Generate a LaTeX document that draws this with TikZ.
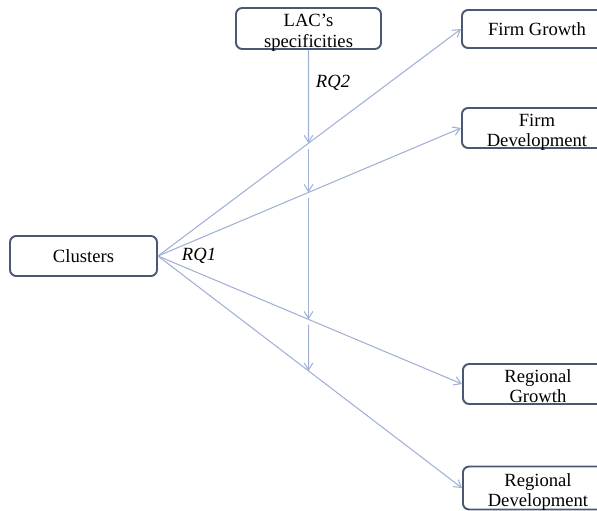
\documentclass[tikz,border=0pt]{standalone}
\usepackage{fontspec}
\setmainfont{Liberation Serif}
\usetikzlibrary{arrows.meta}
\definecolor{boxline}{RGB}{74,88,115}
\definecolor{rqline}{RGB}{160,176,214}
\newcommand{\twolines}[2]{\raisebox{-5.2pt}[0pt][0pt]{\begin{tabular}{@{}c@{}}#1\\#2\end{tabular}}}

\begin{document}
\begin{tikzpicture}[
    x=0.02cm, y=-0.02cm,
    box/.style={draw=boxline, line width=1.1pt, rounded corners=3.5pt, align=center,
        inner sep=0pt, font=\fontsize{10.6}{11.6}\selectfont},
    outbox/.style={anchor=west, minimum width=3cm},
    rqlab/.style={font=\fontsize{10.6}{12}\selectfont\itshape},
    link/.style={draw=rqline, line width=0.6pt, ->},
    >={Straight Barb[length=4pt, width=5pt]}
]
    \useasboundingbox (0,0) rectangle (597,510);

    % nodes (left, top, right column)
    \node[box, minimum width=2.94cm, minimum height=0.8cm] (Clu) at (83.5, 256) {Clusters};        % cluster box
    \node[box, minimum width=2.9cm, minimum height=0.82cm] (LAC) at (308.5, 28.5) {\twolines{LAC’s}{specificities}}; % moderator box
    \node[box, outbox, minimum height=0.76cm] (FG) at (461, 29) {Firm Growth};
    \node[box, outbox, minimum height=0.8cm] (FD) at (461, 128) {\twolines{Firm}{Development}};
    \node[box, outbox, minimum height=0.8cm] (RG) at (462, 384) {\twolines{Regional}{Growth}};
    \node[box, outbox, minimum height=0.86cm] (RD) at (462, 488) {\twolines{Regional}{Development}};

    % labels
    \node[rqlab] (RQ1) at (199, 256) {RQ1};
    \node[rqlab] (RQ2) at (333, 83) {RQ2};

    % crossings of the vertical line
    \coordinate (Vend) at (LAC.south |- RD.south);
    \coordinate (X1) at (intersection of Clu.east--FG.west and LAC.south--Vend);
    \coordinate (X2) at (intersection of Clu.east--FD.west and LAC.south--Vend);
    \coordinate (X3) at (intersection of Clu.east--RG.west and LAC.south--Vend);
    \coordinate (X4) at (intersection of Clu.east--RD.west and LAC.south--Vend);

    % 1. RQ1: clusters to the four outcomes
    \draw[link] (Clu.east) -- (FG.west);
    \draw[link] (Clu.east) -- (FD.west);
    \draw[link] (Clu.east) -- (RG.west);
    \draw[link] (Clu.east) -- (RD.west);

    % 2. RQ2: LAC's specificities onto each link
    \draw[link] (LAC.south) -- (X1);
    \draw[link, shorten <=3pt] (X1) -- (X2);
    \draw[link, shorten <=3pt] (X2) -- (X3);
    \draw[link, shorten <=3pt] (X3) -- (X4);

\end{tikzpicture}
\end{document}
